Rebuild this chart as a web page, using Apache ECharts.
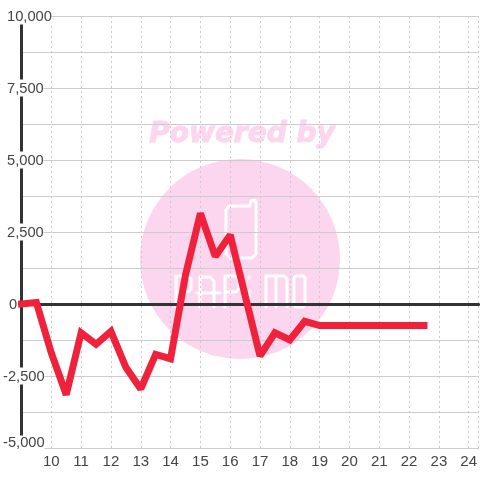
<!DOCTYPE html>
<html>
<head>
<meta charset="utf-8">
<style>html,body{margin:0;padding:0;background:#fff}#main{width:480px;height:480px}</style>
<script src="https://cdn.jsdelivr.net/npm/echarts@6/dist/echarts.min.js"></script>
</head>
<body>
<div id="main"></div>
<script>
var hours = [9,9.5,10,10.5,11,11.5,12,12.5,13,13.5,14,14.5,15,15.5,16,16.5,17,17.5,18,18.5,19,19.5,20,20.5,21,21.5,22,22.5];
var values = [0,50,-1700,-3150,-1000,-1400,-950,-2200,-2950,-1750,-1900,1000,3150,1650,2400,300,-1800,-1000,-1250,-600,-750,-750,-750,-750,-750,-750,-750,-750];
var yLabels = [10000,7500,5000,2500,0,-2500,-5000];
var pink = '#fcd5ee';

window.onload = function(){
	var myChart = echarts.init(document.getElementById('main'), null, {renderer:'canvas'});

	var points = [];
	for(var i = 0; i < hours.length; i++){
		points.push([hours[i], values[i]]);
	}

	// watermark strokes
	function stroke(pts){
		return {
			type:'polyline', z:-1, silent:true,
			shape:{points:pts},
			style:{stroke:'#fff', lineWidth:3, fill:null, lineJoin:'round', lineCap:'round'}
		};
	}
	var watermark = [
		{type:'circle', z:-2, silent:true, shape:{cx:240, cy:259, r:100}, style:{fill:pink}},
		{type:'text', z:-2, silent:true, x:242, y:135, style:{
			text:'Powered by', fill:pink, stroke:pink, lineWidth:1, align:'center', verticalAlign:'middle',
			font:'italic bold 28px "DejaVu Sans"'
		}},
		{type:'polyline', z:-1, silent:true,
			shape:{points:[[232,206],[250,206],[251,201],[255,200],[256,203],[256,254],[252,258],[230,258],[226,254],[226,210],[228,207],[232,206]]},
			style:{stroke:'#fff', lineWidth:3, fill:null, lineJoin:'round'}},
		stroke([[176,307],[176,276],[188,276],[191,279],[191,289],[188,292],[176,292]]),
		stroke([[200,277],[210,277],[214,281],[214,307]]),
		stroke([[197,293],[220,293]]),
		stroke([[200,277],[200,307]]),
		stroke([[225,307],[225,276],[236,276],[239,279],[239,289],[236,292],[225,292]]),
		stroke([[249,291],[249,307]]),
		stroke([[249,277],[249,278]]),
		stroke([[266,307],[266,276],[284,276],[287,279],[287,307]]),
		stroke([[276,276],[276,307]]),
		stroke([[296,276],[304,276],[305,278],[305,305],[303,307],[296,307],[294,305],[294,278],[296,276]])
	];

	function yFormat(v){
		if(yLabels.indexOf(v) < 0) return '';
		var s = echarts.format.addCommas(v);
		if(v == -5000) return '{low|' + s + '}';
		if(v < 0) return '{neg|' + s + '}';
		if(v == 0) return '{zero|' + s + '}';
		return '{pos|' + s + '}';
	}
	var labelBase = {fontSize:14.7, fontFamily:'"Liberation Sans"', color:'#444', backgroundColor:'#fff'};

	var option = {
		backgroundColor:'#fff',
		animation:false,
		graphic:watermark,
		grid:{left:19.5, right:0.5, top:16, bottom:32},
		xAxis:[{
			type:'value', min:9, max:24.3333, interval:1, position:'bottom',
			axisLine:{onZero:false, lineStyle:{color:'#ccc', width:1}},
			axisTick:{show:false},
			axisLabel:{
				fontSize:15, fontFamily:'"Liberation Sans"', color:'#444', margin:6,
				showMinLabel:false, showMaxLabel:false,
				formatter:function(v){ return v % 1 == 0 && v > 9 ? String(v) : ''; }
			},
			splitLine:{show:true, lineStyle:{color:'#ccc', type:[2,3], width:1}}
		},{
			type:'value', min:9, max:24.3333, interval:1, position:'top',
			axisLine:{onZero:true, lineStyle:{color:'#333', width:3}},
			axisTick:{show:false}, axisLabel:{show:false}, splitLine:{show:false}
		}],
		yAxis:{
			type:'value', min:-5000, max:10000, interval:1250,
			axisLine:{show:true, onZero:false, lineStyle:{color:'#333', width:3}},
			axisTick:{show:false},
			axisLabel:{
				align:'left', margin:18.5, formatter:yFormat,
				rich:{
					pos:Object.assign({padding:[2,0,0,4]}, labelBase),
					zero:Object.assign({padding:[2,0,0,6]}, labelBase),
					neg:Object.assign({padding:[2,0,0,0]}, labelBase),
					low:Object.assign({padding:[0,0,10,0]}, labelBase)
				}
			},
			splitLine:{show:true, lineStyle:{color:'#ccc', width:1}}
		},
		series:[{
			type:'line',
			xAxisIndex:0,
			data:points,
			showSymbol:false,
			clip:false,
			lineStyle:{color:'#f0213a', width:7, cap:'square', join:'miter', miterLimit:2}
		}]
	};
	myChart.setOption(option);
};
</script>
</body>
</html>
